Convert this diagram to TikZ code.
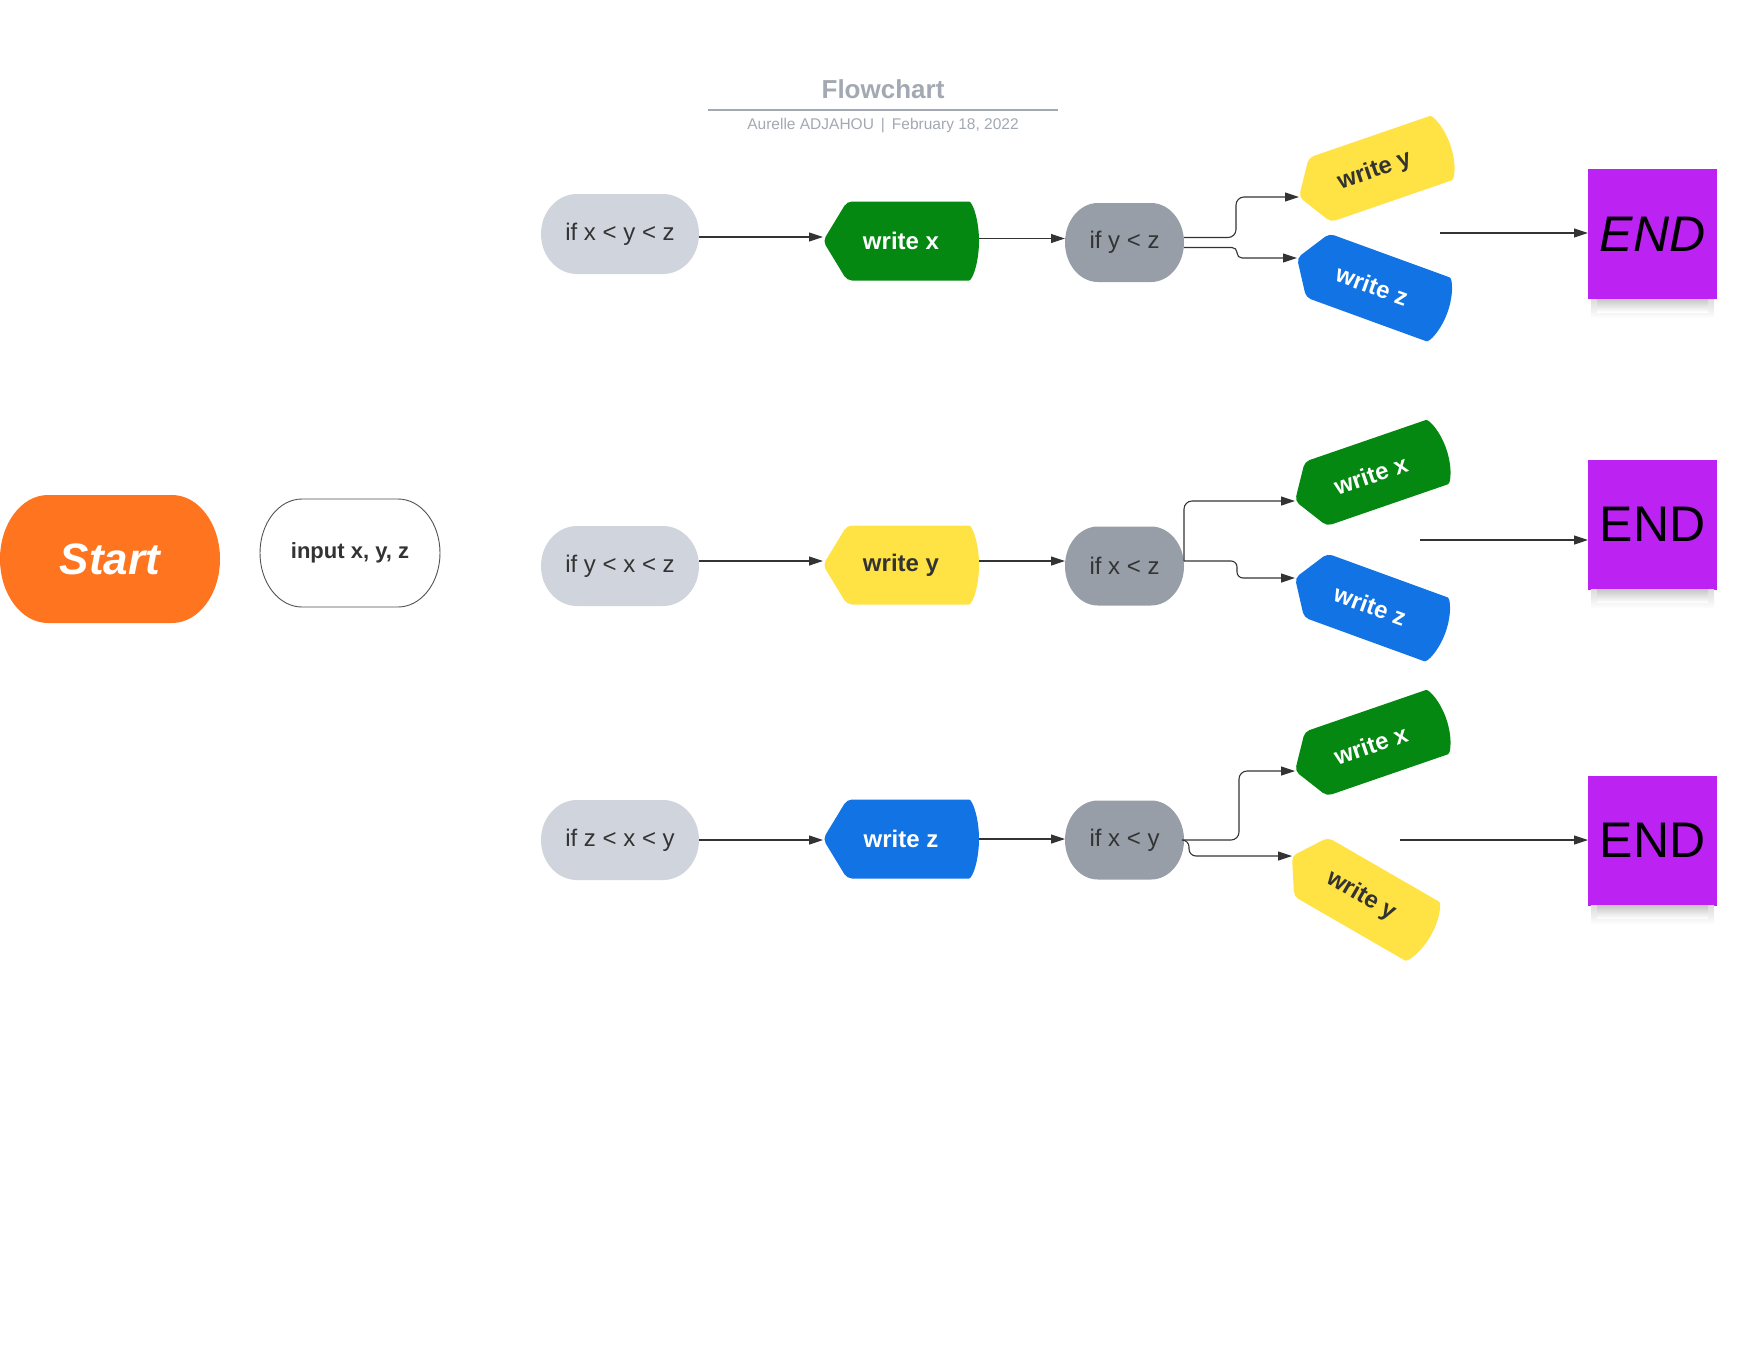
\documentclass[tikz,border=0pt]{standalone}
\usepackage{fontspec}
\setmainfont{Liberation Sans}
\usetikzlibrary{arrows.meta}

\definecolor{ink}{HTML}{333333}
\definecolor{pillgray}{HTML}{CFD4DD}
\definecolor{slate}{HTML}{979EA8}
\definecolor{leaf}{HTML}{048812}
\definecolor{sun}{HTML}{FFE243}
\definecolor{sky}{HTML}{1273E4}
\definecolor{tangerine}{HTML}{FF751F}
\definecolor{grape}{HTML}{BC22F2}
\definecolor{mist}{HTML}{A3A9B3}

\pgfkeys{/pgf/tip depth/.initial=24pt,
         /pgf/arc bulge/.initial=15pt,
         /pgf/cap reach/.initial=36pt}

\makeatletter
% pointed left end, bulging right end
\pgfdeclareshape{displaybox}{
  \inheritsavedanchors[from=rectangle]
  \inheritanchorborder[from=rectangle]
  \inheritanchor[from=rectangle]{center}
  \inheritanchor[from=rectangle]{north}
  \inheritanchor[from=rectangle]{south}
  \inheritanchor[from=rectangle]{east}
  \inheritanchor[from=rectangle]{west}
  \inheritanchor[from=rectangle]{north east}
  \inheritanchor[from=rectangle]{north west}
  \inheritanchor[from=rectangle]{south east}
  \inheritanchor[from=rectangle]{south west}
  \inheritanchor[from=rectangle]{mid}
  \inheritanchor[from=rectangle]{base}
  \backgroundpath{%
    \pgfmathsetlength\pgf@xc{\pgfkeysvalueof{/pgf/tip depth}}\edef\dsp@d{\the\pgf@xc}%
    \pgfmathsetlength\pgf@yc{\pgfkeysvalueof{/pgf/arc bulge}}\edef\dsp@b{\the\pgf@yc}%
    \southwest \pgf@xa=\pgf@x \pgf@ya=\pgf@y
    \northeast \pgf@xb=\pgf@x \pgf@yb=\pgf@y
    \pgf@xc=\pgf@xa \advance\pgf@xc by \dsp@d \edef\dsp@xt{\the\pgf@xc}%
    \pgf@xc=\pgf@xb \advance\pgf@xc by -\dsp@b \edef\dsp@xr{\the\pgf@xc}%
    \pgf@xc=\dsp@xt \advance\pgf@xc by \dsp@xr \pgf@xc=.5\pgf@xc \edef\dsp@xm{\the\pgf@xc}%
    \pgf@yc=.5\pgf@ya \advance\pgf@yc by .5\pgf@yb \edef\dsp@ym{\the\pgf@yc}%
    \pgf@yc=.5\pgf@yb \advance\pgf@yc by -.5\pgf@ya \edef\dsp@hh{\the\pgf@yc}%
    \edef\dsp@xa{\the\pgf@xa}\edef\dsp@ya{\the\pgf@ya}\edef\dsp@yb{\the\pgf@yb}%
    \pgfpathmoveto{\pgfqpoint{\dsp@xm}{\dsp@yb}}%
    \pgfpathlineto{\pgfqpoint{\dsp@xr}{\dsp@yb}}%
    \pgfpatharc{90}{-90}{\dsp@b and \dsp@hh}%
    \pgfpathlineto{\pgfqpoint{\dsp@xt}{\dsp@ya}}%
    \pgfpathlineto{\pgfqpoint{\dsp@xa}{\dsp@ym}}%
    \pgfpathlineto{\pgfqpoint{\dsp@xt}{\dsp@yb}}%
    \pgfpathclose
  }
}
% box with half-elliptic ends
\pgfdeclareshape{capsule}{
  \inheritsavedanchors[from=rectangle]
  \inheritanchorborder[from=rectangle]
  \inheritanchor[from=rectangle]{center}
  \inheritanchor[from=rectangle]{north}
  \inheritanchor[from=rectangle]{south}
  \inheritanchor[from=rectangle]{east}
  \inheritanchor[from=rectangle]{west}
  \inheritanchor[from=rectangle]{north east}
  \inheritanchor[from=rectangle]{north west}
  \inheritanchor[from=rectangle]{south east}
  \inheritanchor[from=rectangle]{south west}
  \inheritanchor[from=rectangle]{mid}
  \inheritanchor[from=rectangle]{base}
  \backgroundpath{%
    \pgfmathsetlength\pgf@xc{\pgfkeysvalueof{/pgf/cap reach}}\edef\cap@r{\the\pgf@xc}%
    \southwest \pgf@xa=\pgf@x \pgf@ya=\pgf@y
    \northeast \pgf@xb=\pgf@x \pgf@yb=\pgf@y
    \pgf@yc=.5\pgf@yb \advance\pgf@yc by -.5\pgf@ya \edef\cap@hh{\the\pgf@yc}%
    \pgf@xc=\pgf@xa \advance\pgf@xc by \cap@r \edef\cap@xl{\the\pgf@xc}%
    \pgf@xc=\pgf@xb \advance\pgf@xc by -\cap@r \edef\cap@xr{\the\pgf@xc}%
    \edef\cap@ya{\the\pgf@ya}\edef\cap@yb{\the\pgf@yb}%
    \pgfpathmoveto{\pgfqpoint{\cap@xl}{\cap@yb}}%
    \pgfpathlineto{\pgfqpoint{\cap@xr}{\cap@yb}}%
    \pgfpatharc{90}{-90}{\cap@r and \cap@hh}%
    \pgfpathlineto{\pgfqpoint{\cap@xl}{\cap@ya}}%
    \pgfpatharc{270}{90}{\cap@r and \cap@hh}%
    \pgfpathclose
  }
}
\makeatother

\tikzset{
  base/.style={inner sep=0pt, outer sep=0pt, align=center, text=ink},
  cond/.style={base, shape=capsule, cap reach=36pt, fill=pillgray,
    minimum width=158pt, minimum height=80pt, font=\fontsize{24}{28}\selectfont},
  test/.style={base, shape=capsule, cap reach=33pt, fill=slate,
    minimum width=119pt, minimum height=79pt, font=\fontsize{24}{28}\selectfont},
  act/.style={base, shape=displaybox, rounded corners=5pt,
    minimum width=156pt, minimum height=79pt, font=\bfseries\fontsize{24}{28}\selectfont},
  tag/.style={act, anchor=west, minimum width=160pt, minimum height=68pt,
    tip depth=22pt},
  green/.style={fill=leaf, text=white},
  yellow/.style={fill=sun, text=ink},
  blue/.style={fill=sky, text=white},
  endbox/.style={base, fill=grape, text=black, minimum width=129pt,
    minimum height=130pt, font=\fontsize{50}{60}\selectfont},
  % soft drop shadow under a box: a wide faint band and a narrower darker one
  dropshade/.style={top color=black!#1, bottom color=white, draw=none},
  link/.style={draw=ink, line width=1.1pt, -{Triangle[length=14pt,width=9pt]}},
}

\begin{document}
\begin{tikzpicture}[x=1pt,y=-1pt]
  \fill[white] (0,0) rectangle (1760,1360);
  \useasboundingbox (0,0) rectangle (1760,1360);

  % heading
  \node[text=mist, font=\bfseries\fontsize{26}{30}\selectfont] (title) at (883,89) {Flowchart};
  \draw[mist, line width=1.6pt] (708,110) -- (1058,110);
  \node[text=mist, font=\fontsize{15.5}{18}\selectfont] (byline) at (883,126)
    {Aurelle ADJAHOU\hspace{7pt}|\hspace{7pt}February 18, 2022};

  % start and input
  \node[base, shape=capsule, cap reach=48pt, fill=tangerine, text=white,
    minimum width=220pt, minimum height=128pt,
    font=\bfseries\itshape\fontsize{44}{50}\selectfont] (start) at (110,559) {Start};
  \node[base, shape=capsule, cap reach=42pt, draw=ink!85, line width=0.9pt,
    fill=white, minimum width=180pt, minimum height=108pt,
    font=\bfseries\fontsize{22}{26}\selectfont] (input) at (350,553) {input x, y, z};

  % row 1
  \node[cond] (c1) at (620,234) {if x < y < z};
  \node[act, green] (w1) at (901,241) {write x};
  \node[test] (g1) at (1124.5,242.5) {if y < z};
  \node[tag, yellow, rotate=19] (t1a) at (1299,197) {write y};
  \node[tag, blue, rotate=-20] (t1b) at (1297,258) {write z};
  \node[endbox] (n1) at (1652.5,234) {\itshape END};
  \coordinate (f1) at (1440,233);

  % row 2
  \node[cond] (c2) at (620,566) {if y < x < z};
  \node[act, yellow] (w2) at (901,565) {write y};
  \node[test] (g2) at (1124.5,566) {if x < z};
  \node[tag, green, rotate=19] (t2a) at (1295,501) {write x};
  \node[tag, blue, rotate=-20] (t2b) at (1295,578) {write z};
  \node[endbox] (n2) at (1652.5,524.5) {END};
  \coordinate (f2) at (1420,540);

  % row 3
  \node[cond] (c3) at (620,840) {if z < x < y};
  \node[act, blue] (w3) at (901,839) {write z};
  \node[test] (g3) at (1124.5,840) {if x < y};
  \node[tag, green, rotate=19] (t3a) at (1295,771) {write x};
  \node[tag, yellow, rotate=-30] (t3b) at (1292,856) {write y};
  \node[endbox] (n3) at (1652.5,840.5) {END};
  \coordinate (f3) at (1400,840);

  % shadows under the END boxes
  \foreach \b in {n1,n2,n3}{
    \shade[dropshade=14] ([xshift=3pt]\b.south west) rectangle ([xshift=-3pt,yshift=-19pt]\b.south east);
    \shade[dropshade=22] ([xshift=9pt]\b.south west) rectangle ([xshift=-9pt,yshift=-13pt]\b.south east);
  }

  % connectors, row 1
  \draw[link] ([yshift=-3pt]c1.east) -- ([yshift=-3pt]c1.east -| w1.west);
  \draw[link] ([yshift=2.5pt]w1.east) -- ([yshift=2.5pt]w1.east -| g1.west);
  \draw[link, rounded corners=8pt] ([yshift=5pt]g1.east) -- ++(52,0) |- (t1a.west);
  \draw[link, rounded corners=5pt] ([yshift=-5pt]g1.east) -- ++(53,0) |- (t1b.west);
  \draw[link] (f1) -- (f1 -| n1.west);

  % connectors, row 2
  \draw[link] ([yshift=5pt]c2.east) -- ([yshift=5pt]c2.east -| w2.west);
  \draw[link] ([yshift=4pt]w2.east) -- ([yshift=4pt]w2.east -| g2.west);
  \draw[link, rounded corners=8pt] ([yshift=5pt]g2.east) |- (t2a.west);
  \draw[link, rounded corners=6pt] ([yshift=5pt]g2.east) -- ++(53,0) |- (t2b.west);
  \draw[link] (f2) -- (f2 -| n2.west);

  % connectors, row 3
  \draw[link] (c3.east) -- (c3.east -| w3.west);
  \draw[link] (w3.east) -- (w3.east -| g3.west);
  \draw[link, rounded corners=8pt] (g3.east) -- ++(55,0) |- (t3a.west);
  \draw[link, rounded corners=7pt] (g3.east) -- ++(5,0) |- (t3b.west);
  \draw[link] (f3) -- (f3 -| n3.west);
\end{tikzpicture}
\end{document}
